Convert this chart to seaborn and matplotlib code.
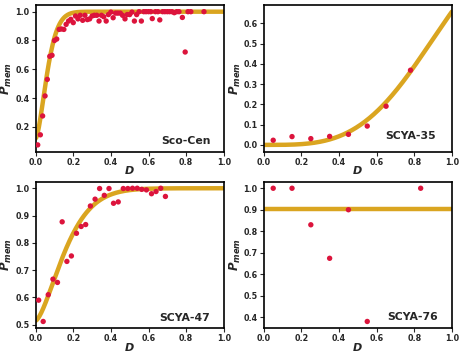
import numpy as np
import pandas as pd
import matplotlib.pyplot as plt
import seaborn as sns

# measured membership probability vs. distance D
sco_d = [0.011, 0.025, 0.037, 0.050, 0.062, 0.075, 0.087, 0.100, 0.112, 0.125,
         0.137, 0.150, 0.162, 0.175, 0.187, 0.200, 0.212, 0.225, 0.237, 0.250,
         0.262, 0.275, 0.287, 0.300, 0.312, 0.325, 0.337, 0.350, 0.362, 0.375,
         0.387, 0.400, 0.412, 0.425, 0.437, 0.450, 0.462, 0.475, 0.487, 0.500,
         0.512, 0.525, 0.537, 0.550, 0.562, 0.575, 0.587, 0.600, 0.612, 0.620,
         0.637, 0.650, 0.660, 0.675, 0.687, 0.700, 0.712, 0.725, 0.737, 0.750,
         0.762, 0.780, 0.795, 0.810, 0.825, 0.895]
sco_p = [0.075, 0.145, 0.276, 0.415, 0.530, 0.690, 0.697, 0.800, 0.810, 0.877,
         0.880, 0.877, 0.912, 0.935, 0.947, 0.924, 0.970, 0.950, 0.975, 0.940,
         0.975, 0.945, 0.950, 0.970, 0.975, 0.975, 0.935, 0.975, 0.965, 0.935,
         0.980, 0.997, 0.958, 0.990, 0.990, 0.990, 0.975, 0.950, 0.980, 0.980,
         0.997, 0.935, 0.980, 1.000, 0.935, 1.000, 1.000, 1.000, 1.000, 0.952,
         1.000, 1.000, 0.943, 1.000, 1.000, 1.000, 1.000, 1.000, 0.993, 1.000,
         1.000, 0.960, 0.720, 1.000, 1.000, 1.000]

s35_d = [0.05, 0.15, 0.25, 0.35, 0.45, 0.55, 0.65, 0.78]
s35_p = [0.023, 0.041, 0.031, 0.042, 0.052, 0.093, 0.191, 0.369]

s47_d = [0.016, 0.040, 0.067, 0.092, 0.116, 0.141, 0.166, 0.190, 0.217, 0.242,
         0.266, 0.291, 0.316, 0.340, 0.365, 0.390, 0.414, 0.439, 0.466, 0.490,
         0.515, 0.540, 0.564, 0.589, 0.616, 0.640, 0.665, 0.690]
s47_p = [0.590, 0.512, 0.610, 0.667, 0.655, 0.877, 0.732, 0.752, 0.835, 0.860,
         0.867, 0.935, 0.960, 0.999, 0.974, 0.999, 0.945, 0.950, 0.999, 0.999,
         1.000, 1.000, 0.996, 0.994, 0.980, 0.988, 1.000, 0.970]

s76_d = [0.05, 0.15, 0.25, 0.35, 0.45, 0.55, 0.834]
s76_p = [1.00, 1.00, 0.83, 0.674, 0.90, 0.38, 1.00]

# fitted saturation model parameters: p0, pmax, scale, shape
sco_fit = [0.12, 1.0, 0.075, 1.6]
s35_fit = [0.0, 1.0, 0.98, 3.5]
s47_fit = [0.515, 1.0, 0.19, 1.5]
s76_fit = [0.905, 0.905, 0.5, 1.0]

names = ['Sco-Cen', 'SCYA-35', 'SCYA-47', 'SCYA-76']


def model(d, p0, pmax, a, n):
    return p0 + (pmax - p0) * (1 - np.exp(-(d / a) ** n))


sns.set_style('ticks')
plt.rcParams['font.family'] = ['DejaVu Sans']
plt.rcParams['font.weight'] = 'bold'

fig, axes = plt.subplots(2, 2, figsize=(4.63, 3.59), dpi=100)
fig.subplots_adjust(left=0.077, right=0.976, top=0.986, bottom=0.086,
                    wspace=0.213, hspace=0.205)

dgrid = np.linspace(0, 1, 300)
panels = [(sco_d, sco_p, sco_fit, (0.93, 0.035)),
          (s35_d, s35_p, s35_fit, (0.915, 0.07)),
          (s47_d, s47_p, s47_fit, (0.925, 0.035)),
          (s76_d, s76_p, s76_fit, (0.925, 0.04))]

for ax, (d, p, fit, pos), name in zip(axes.flat, panels, names):
    curve = pd.DataFrame({'D': dgrid, 'P': model(dgrid, *fit)})
    sns.lineplot(data=curve, x='D', y='P', ax=ax, color='goldenrod', lw=3.2,
                 zorder=2)
    sns.scatterplot(x=d, y=p, ax=ax, color='crimson', s=15, edgecolor='none',
                    zorder=3)
    ax.set_xlim(0, 1)
    ax.set_xticks(np.arange(0, 1.01, 0.2))
    ax.set_xlabel('D', fontsize=8, fontstyle='italic', fontweight='bold',
                  labelpad=-0.5)
    ax.set_ylabel(r'$\mathbfit{P}_{\mathbfit{mem}}$', fontsize=8.5,
                  labelpad=0.5)
    ax.tick_params(labelsize=5.8, length=3, width=0.8, pad=1.5)
    for lab in ax.get_xticklabels() + ax.get_yticklabels():
        lab.set_fontweight('bold')
    for sp in ax.spines.values():
        sp.set_linewidth(1.2)
        sp.set_color('black')
    ax.text(pos[0], pos[1], name, transform=ax.transAxes, ha='right',
            va='bottom', fontsize=7.8, fontweight='bold')

fig.savefig('out.png', dpi=100)
plt.close()
